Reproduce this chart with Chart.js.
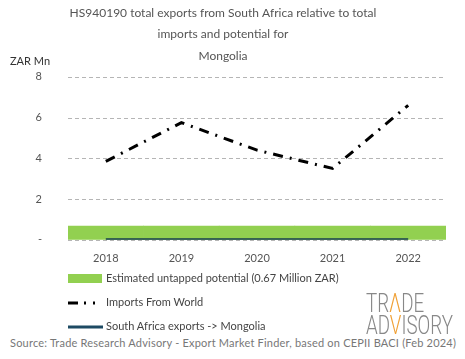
<!DOCTYPE html>
<html><head><meta charset="utf-8">
<script src="https://cdn.jsdelivr.net/npm/chart.js@4/dist/chart.umd.min.js"></script>
<style>
html,body{margin:0;padding:0;background:#fff;}
#wrap{position:relative;width:465px;height:359px;overflow:hidden;font-family:Lato,"Open Sans",sans-serif;}
#c{position:absolute;left:0;top:0;}
.t{position:absolute;white-space:nowrap;}
#unit{left:10px;top:54px;font-size:11px;color:#333;}
.leg{position:absolute;left:68px;font-size:11px;color:#444;white-space:nowrap;}
.leg span{position:absolute;left:38px;top:-7px;}
#src{left:10px;top:336px;font-size:11px;color:#777;letter-spacing:0.2px;}
#logo{position:absolute;left:366px;top:293px;color:#888;font-family:Roboto,sans-serif;font-weight:300;font-size:25px;line-height:22px;transform-origin:0 0;transform:scaleX(0.75);}
#logo b{font-weight:300;color:#f0a035;}
</style></head>
<body><div id="wrap">
<canvas id="c" width="465" height="275"></canvas>
<div class="t" id="unit">ZAR Mn</div>
<div class="leg" style="top:278px;"><svg width="34" height="10" style="position:absolute;left:0;top:-4px"><rect x="0" y="0" width="34" height="9" fill="#92d050"/></svg><span>Estimated untapped potential (0.67 Million ZAR)</span></div>
<div class="leg" style="top:302px;"><svg width="36" height="8" style="position:absolute;left:0;top:-3px"><line x1="0" y1="4" x2="36" y2="4" stroke="#000" stroke-width="3" stroke-dasharray="10,6,2,7,2,10"/></svg><span>Imports From World</span></div>
<div class="leg" style="top:326px;"><svg width="36" height="8" style="position:absolute;left:0;top:-3px"><line x1="0" y1="4" x2="35" y2="4" stroke="#1d4a63" stroke-width="3"/></svg><span>South Africa exports -&gt; Mongolia</span></div>
<div class="t" id="src">Source: Trade Research Advisory - Export Market Finder, based on CEPII BACI (Feb 2024)</div>
<div id="logo">TR<b>&Lambda;</b>DE<br>AD<b>V</b>ISORY</div>
</div>
<script>
const years = ['2018','2019','2020','2021','2022'];
const untappedPotential = [0.67,0.67,0.67,0.67,0.67];
const importsFromWorld = [3.85,5.75,4.4,3.5,6.6];
const saExports = [0,0,0,0,0];
const yTicks = [0,2,4,6,8];
const titleLines = ['HS940190 total exports from South Africa relative to total','imports and potential for','Mongolia'];

const dashedGrid = {
  id:'dashedGrid',
  beforeDatasetsDraw(chart){
    const {ctx, chartArea:a, scales:{y}} = chart;
    ctx.save();
    ctx.strokeStyle='#b5b5b5'; ctx.lineWidth=1; ctx.setLineDash([4,3]);
    y.ticks.forEach(t=>{
      const py = Math.round(y.getPixelForValue(t.value))+0.5;
      ctx.beginPath(); ctx.moveTo(a.left,py); ctx.lineTo(a.right,py); ctx.stroke();
    });
    ctx.restore();
  }
};

new Chart(document.getElementById('c'), {
  data: {
    labels: years,
    datasets: [
      {type:'line', label:'South Africa exports -> Mongolia', data: saExports, borderColor:'#17404f', borderWidth:3, pointRadius:0, order:0},
      {type:'line', label:'Imports From World', data: importsFromWorld, borderColor:'#000', borderWidth:3, borderDash:[10,7,2,7], pointRadius:0, tension:0, order:1},
      {type:'bar', label:'Estimated untapped potential (0.67 Million ZAR)', data: untappedPotential, backgroundColor:'#92d050', barPercentage:1, categoryPercentage:1, order:2}
    ]
  },
  plugins:[dashedGrid],
  options: {
    responsive:false, animation:false,
    layout:{padding:{left:0,right:19,top:0,bottom:6}},
    plugins:{
      legend:{display:false}, tooltip:{enabled:false},
      title:{display:true, text:titleLines, color:'#555', font:{family:'Lato', size:12, weight:'normal', lineHeight:1.8}, padding:{top:2,bottom:10}}
    },
    scales:{
      x:{offset:true, grid:{display:false}, border:{display:false}, ticks:{color:'#555', font:{family:'Lato',size:11}, padding:4}},
      y:{min:0,max:8, afterFit:(s)=>{s.width=68;}, afterBuildTicks:(s)=>{s.ticks=yTicks.map(v=>({value:v}));},
         grid:{display:false}, border:{display:false},
         ticks:{color:'#555', font:{family:'Lato',size:11}, padding:18, callback:(v)=> v===0?'-':v}}
    }
  }
});
</script>
</body></html>
